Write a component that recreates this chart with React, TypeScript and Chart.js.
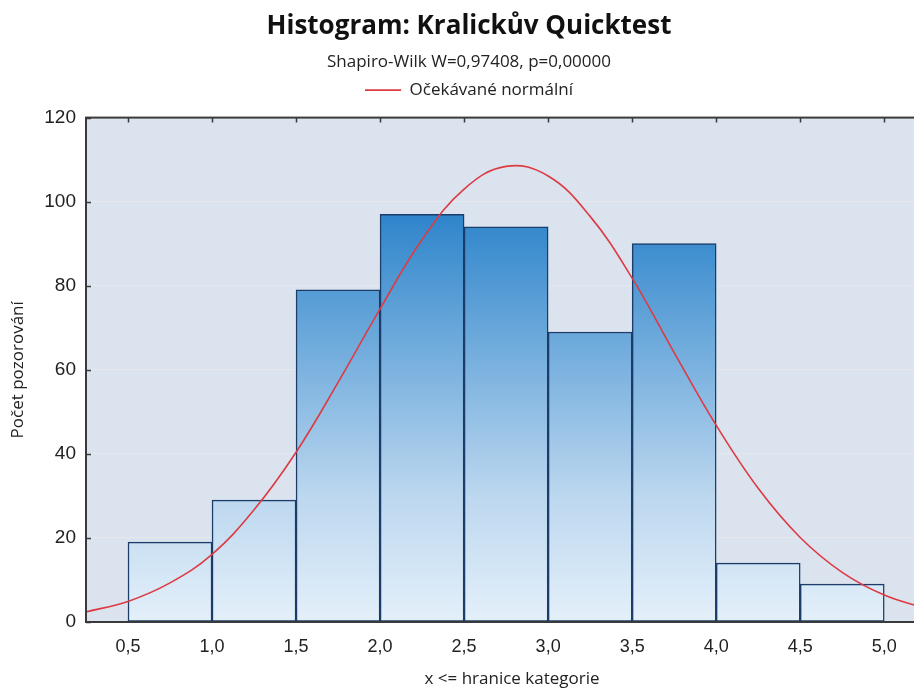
import { useEffect, useRef } from 'react';
import { Chart, registerables } from 'chart.js';

Chart.register(...registerables);

// Histogram bins (x <= upper boundary) and counts
const binLower = [0.5, 1.0, 1.5, 2.0, 2.5, 3.0, 3.5, 4.0, 4.5];
const binUpper = [1.0, 1.5, 2.0, 2.5, 3.0, 3.5, 4.0, 4.5, 5.0];
const counts = [19, 29, 79, 97, 94, 69, 90, 14, 9];

// Expected normal curve
const curveX = [0.25, 0.5, 0.75, 1.0, 1.25, 1.5, 1.75, 2.0, 2.25, 2.5, 2.75, 3.0, 3.25, 3.5, 3.75, 4.0, 4.25, 4.5, 4.75, 5.0, 5.25];
const curveY = [2.4, 4.9, 9.3, 16.1, 26.7, 40.4, 57.0, 74.5, 91.0, 103.0, 108.4, 106.1, 96.5, 81.8, 64.1, 46.8, 31.8, 20.1, 11.8, 6.4, 3.2];

const xTicks = [0.5, 1.0, 1.5, 2.0, 2.5, 3.0, 3.5, 4.0, 4.5, 5.0];
const yTicks = [0, 20, 40, 60, 80, 100, 120];

const titleText = 'Histogram: Kralickův Quicktest';
const subtitleText = 'Shapiro-Wilk W=0,97408, p=0,00000';
const legendText = 'Očekávané normální';
const xTitle = 'x <= hranice kategorie';
const yTitle = 'Počet pozorování';

const SANS = '"Open Sans", "Noto Sans", sans-serif';
const TICKF = '"Liberation Sans", Arial, sans-serif';

const decor = {
  id: 'decor',
  beforeLayout(chart: any) {
    const lg = chart.legend;
    if (lg && !lg.__patched) {
      const orig = lg.fit.bind(lg);
      lg.fit = function () {
        orig();
        this.height += 9;
      };
      lg.__patched = true;
    }
  },
  beforeDraw(chart: any) {
    const { ctx, chartArea: a } = chart;
    ctx.save();
    ctx.fillStyle = '#dbe3ee';
    ctx.fillRect(a.left, a.top, a.right - a.left, a.bottom - a.top);
    ctx.restore();
  },
  afterDraw(chart: any) {
    const { ctx, chartArea: a, scales } = chart;
    ctx.save();
    ctx.strokeStyle = '#3a3a3a';
    ctx.lineWidth = 2;
    ctx.strokeRect(a.left, a.top, a.right - a.left, a.bottom - a.top);
    ctx.lineWidth = 1.5;
    ctx.beginPath();
    for (const v of xTicks) {
      const px = Math.round(scales.x.getPixelForValue(v)) + 0.5;
      ctx.moveTo(px, a.top);
      ctx.lineTo(px, a.top + 5);
    }
    for (const v of yTicks) {
      const py = Math.round(scales.y.getPixelForValue(v)) + 0.5;
      ctx.moveTo(a.left, py);
      ctx.lineTo(a.left + 5, py);
    }
    ctx.stroke();
    ctx.restore();
  },
};

export default function App() {
  const ref = useRef<HTMLCanvasElement | null>(null);

  useEffect(() => {
    const canvas = ref.current;
    if (!canvas) return;
    const barData = counts.map((c, i) => ({ x: (binLower[i] + binUpper[i]) / 2, y: c }));
    const lineData = curveX.map((x, i) => ({ x, y: curveY[i] }));

    const chart = new Chart(canvas, {
      type: 'bar',
      data: {
        datasets: [
          {
            type: 'bar',
            label: 'Histogram',
            data: barData,
            backgroundColor: (c: any) => {
              const ch = c.chart;
              const ys = ch.scales.y;
              if (!ys || !ch.chartArea) return '#7fb2de';
              const g = ch.ctx.createLinearGradient(0, ys.getPixelForValue(0), 0, ys.getPixelForValue(120));
              g.addColorStop(0, '#e4f0fa');
              g.addColorStop(0.25, '#bcd7ef');
              g.addColorStop(0.55, '#6fabdc');
              g.addColorStop(0.82, '#2b83ca');
              g.addColorStop(1, '#1c74be');
              return g;
            },
            borderColor: '#1c3c6a',
            borderWidth: 1.5,
            borderSkipped: false,
            barPercentage: 1,
            categoryPercentage: 1,
            order: 2,
          } as any,
          {
            type: 'line',
            label: legendText,
            data: lineData,
            borderColor: '#dd3b44',
            backgroundColor: '#dd3b44',
            borderWidth: 1.6,
            pointRadius: 0,
            pointStyle: 'line',
            tension: 0.4,
            order: 1,
          } as any,
        ],
      },
      options: {
        animation: false,
        responsive: false,
        layout: { padding: { left: 0, right: 0, top: 0, bottom: 0 } },
        plugins: {
          tooltip: { enabled: false },
          title: {
            display: true,
            text: titleText,
            color: '#111',
            font: { family: SANS, size: 26, weight: 'bold' },
            padding: { top: 11, bottom: 0 },
          },
          subtitle: {
            display: true,
            text: subtitleText,
            color: '#222',
            font: { family: SANS, size: 17 },
            padding: { top: 10, bottom: 0 },
          },
          legend: {
            display: true,
            labels: {
              filter: (item: any) => item.datasetIndex === 1,
              usePointStyle: true,
              pointStyleWidth: 36,
              color: '#222',
              font: { family: SANS, size: 17 },
              padding: 9,
            },
          },
        },
        scales: {
          x: {
            type: 'linear',
            min: 0.25,
            max: 5.32,
            offset: false,
            afterBuildTicks: (s: any) => {
              s.ticks = xTicks.map((v) => ({ value: v }));
            },
            afterFit: (s: any) => {
              s.height = 68;
            },
            ticks: {
              color: '#222',
              font: { family: TICKF, size: 18 },
              padding: 14,
              maxRotation: 0,
              autoSkip: false,
              callback: (v: any) => Number(v).toFixed(1).replace('.', ','),
            },
            grid: { display: false, drawTicks: false },
            border: { display: false },
            title: {
              display: true,
              text: xTitle,
              color: '#222',
              font: { family: SANS, size: 17 },
              padding: { top: 0, bottom: 1 },
            },
          },
          y: {
            min: 0,
            max: 120,
            afterBuildTicks: (s: any) => {
              s.ticks = yTicks.map((v) => ({ value: v }));
            },
            afterFit: (s: any) => {
              s.width = 86;
            },
            ticks: {
              color: '#222',
              font: { family: TICKF, size: 19 },
              padding: 10,
            },
            grid: { color: '#e6e6ec', lineWidth: 1, drawTicks: false },
            border: { display: false },
            title: {
              display: true,
              text: yTitle,
              color: '#222',
              font: { family: SANS, size: 17 },
              padding: { top: 8, bottom: 0 },
            },
          },
        },
      },
      plugins: [decor],
    } as any);

    return () => chart.destroy();
  }, []);

  return (
    <div style={{ position: 'fixed', left: 0, top: 0, width: 914, height: 690, overflow: 'hidden', background: '#fff' }}>
      <canvas ref={ref} width={938} height={690} style={{ width: 938, height: 690, display: 'block' }} />
    </div>
  );
}
